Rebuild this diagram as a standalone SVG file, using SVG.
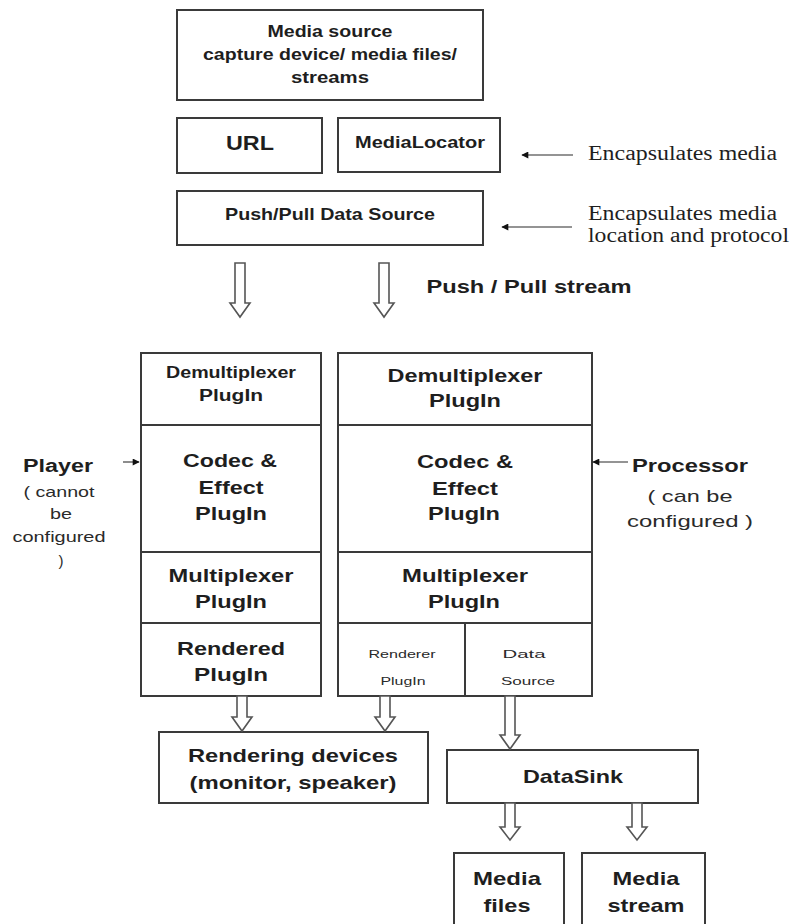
<svg xmlns="http://www.w3.org/2000/svg" width="792" height="924" viewBox="0 0 792 924">
  <style>
    .box { fill: #ffffff; stroke: #3a3a3a; stroke-width: 2; }
    .div { stroke: #3a3a3a; stroke-width: 2; fill: none; }
    .lbl { font-family: "Liberation Sans", Arial, sans-serif; font-weight: bold; fill: #1e1e1e; text-anchor: middle; }
    .note { font-family: "Liberation Sans", Arial, sans-serif; fill: #2a2a2a; text-anchor: middle; }
    .serif { font-family: "Liberation Serif", "Times New Roman", serif; fill: #1e1e1e; }
    .hollow { fill: #ffffff; stroke: #555555; stroke-width: 1.6; stroke-linejoin: miter; }
    .thin { stroke: #707070; stroke-width: 1.6; fill: none; }
  </style>
  <defs>
    <marker id="head" viewBox="0 0 10 10" refX="9" refY="5" markerWidth="9" markerHeight="7" markerUnits="userSpaceOnUse" orient="auto">
      <path d="M0,0 L10,5 L0,10 Z" fill="#111111"/>
    </marker>
  </defs>
  <rect width="792" height="924" fill="#ffffff"/>

  <g id="media-source">
    <rect class="box" x="177" y="10" width="306" height="90"/>
    <text class="lbl" x="330" y="37" font-size="16" textLength="125" lengthAdjust="spacingAndGlyphs">Media source</text>
    <text class="lbl" x="330" y="60" font-size="16" textLength="254" lengthAdjust="spacingAndGlyphs">capture device/ media files/</text>
    <text class="lbl" x="330" y="83" font-size="16" textLength="78" lengthAdjust="spacingAndGlyphs">streams</text>
  </g>

  <g id="url">
    <rect class="box" x="177" y="118" width="145" height="55"/>
    <text class="lbl" x="250" y="150" font-size="21" textLength="48" lengthAdjust="spacingAndGlyphs">URL</text>
  </g>

  <g id="media-locator">
    <rect class="box" x="338" y="118" width="162" height="54"/>
    <text class="lbl" x="420" y="148" font-size="17" textLength="130" lengthAdjust="spacingAndGlyphs">MediaLocator</text>
  </g>

  <g id="data-source">
    <rect class="box" x="177" y="191" width="306" height="54"/>
    <text class="lbl" x="330" y="220" font-size="17" textLength="210" lengthAdjust="spacingAndGlyphs">Push/Pull Data Source</text>
  </g>

  <g id="note-media">
    <text class="serif" x="588" y="160" font-size="20" textLength="189" lengthAdjust="spacingAndGlyphs">Encapsulates media</text>
  </g>

  <g id="note-location">
    <text class="serif" x="588" y="220" font-size="20" textLength="189" lengthAdjust="spacingAndGlyphs">Encapsulates media</text>
    <text class="serif" x="588" y="242" font-size="20" textLength="201" lengthAdjust="spacingAndGlyphs">location and protocol</text>
  </g>

  <g id="stream-label">
    <text class="lbl" x="529" y="293" font-size="19" textLength="205" lengthAdjust="spacingAndGlyphs">Push / Pull stream</text>
  </g>

  <!-- Player: fixed plug-in chain -->
  <g id="player">
    <rect class="box" x="141" y="353" width="180" height="343"/>
    <line class="div" x1="141" y1="425" x2="321" y2="425"/>
    <line class="div" x1="141" y1="552" x2="321" y2="552"/>
    <line class="div" x1="141" y1="623" x2="321" y2="623"/>
    <text class="lbl" x="231" y="378" font-size="16" textLength="130" lengthAdjust="spacingAndGlyphs">Demultiplexer</text>
    <text class="lbl" x="231" y="401" font-size="16" textLength="64" lengthAdjust="spacingAndGlyphs">PlugIn</text>
    <text class="lbl" x="230" y="467" font-size="19" textLength="94" lengthAdjust="spacingAndGlyphs">Codec &amp;</text>
    <text class="lbl" x="231" y="494" font-size="19" textLength="65" lengthAdjust="spacingAndGlyphs">Effect</text>
    <text class="lbl" x="231" y="520" font-size="19" textLength="72" lengthAdjust="spacingAndGlyphs">PlugIn</text>
    <text class="lbl" x="231" y="582" font-size="19" textLength="125" lengthAdjust="spacingAndGlyphs">Multiplexer</text>
    <text class="lbl" x="231" y="608" font-size="19" textLength="72" lengthAdjust="spacingAndGlyphs">PlugIn</text>
    <text class="lbl" x="231" y="655" font-size="19" textLength="108" lengthAdjust="spacingAndGlyphs">Rendered</text>
    <text class="lbl" x="231" y="681" font-size="19" textLength="74" lengthAdjust="spacingAndGlyphs">PlugIn</text>
  </g>

  <g id="player-label">
    <text class="lbl" x="58" y="472" font-size="18" textLength="70" lengthAdjust="spacingAndGlyphs">Player</text>
    <text class="note" x="59" y="497" font-size="15" textLength="71" lengthAdjust="spacingAndGlyphs">( cannot</text>
    <text class="note" x="61" y="519" font-size="15" textLength="22" lengthAdjust="spacingAndGlyphs">be</text>
    <text class="note" x="59" y="542" font-size="15" textLength="93" lengthAdjust="spacingAndGlyphs">configured</text>
    <text class="note" x="61" y="566" font-size="15">)</text>
  </g>

  <!-- Processor: configurable plug-in chain -->
  <g id="processor">
    <rect class="box" x="338" y="353" width="254" height="343"/>
    <line class="div" x1="338" y1="425" x2="592" y2="425"/>
    <line class="div" x1="338" y1="552" x2="592" y2="552"/>
    <line class="div" x1="338" y1="623" x2="592" y2="623"/>
    <line class="div" x1="465" y1="623" x2="465" y2="696"/>
    <text class="lbl" x="465" y="382" font-size="19" textLength="155" lengthAdjust="spacingAndGlyphs">Demultiplexer</text>
    <text class="lbl" x="465" y="407" font-size="19" textLength="72" lengthAdjust="spacingAndGlyphs">PlugIn</text>
    <text class="lbl" x="465" y="468" font-size="19" textLength="96" lengthAdjust="spacingAndGlyphs">Codec &amp;</text>
    <text class="lbl" x="465" y="495" font-size="19" textLength="66" lengthAdjust="spacingAndGlyphs">Effect</text>
    <text class="lbl" x="464" y="520" font-size="19" textLength="72" lengthAdjust="spacingAndGlyphs">PlugIn</text>
    <text class="lbl" x="465" y="582" font-size="19" textLength="126" lengthAdjust="spacingAndGlyphs">Multiplexer</text>
    <text class="lbl" x="464" y="608" font-size="19" textLength="72" lengthAdjust="spacingAndGlyphs">PlugIn</text>
    <text class="note" x="402" y="658" font-size="11" textLength="67" lengthAdjust="spacingAndGlyphs">Renderer</text>
    <text class="note" x="403" y="685" font-size="11" textLength="45" lengthAdjust="spacingAndGlyphs">PlugIn</text>
    <text class="note" x="524" y="658" font-size="11" textLength="43" lengthAdjust="spacingAndGlyphs">Data</text>
    <text class="note" x="528" y="685" font-size="11" textLength="54" lengthAdjust="spacingAndGlyphs">Source</text>
  </g>

  <g id="processor-label">
    <text class="lbl" x="690" y="472" font-size="18" textLength="116" lengthAdjust="spacingAndGlyphs">Processor</text>
    <text class="note" x="690" y="502" font-size="17" textLength="85" lengthAdjust="spacingAndGlyphs">( can be</text>
    <text class="note" x="690" y="527" font-size="17" textLength="126" lengthAdjust="spacingAndGlyphs">configured )</text>
  </g>

  <g id="rendering-devices">
    <rect class="box" x="159" y="732" width="269" height="71"/>
    <text class="lbl" x="293" y="762" font-size="19" textLength="210" lengthAdjust="spacingAndGlyphs">Rendering devices</text>
    <text class="lbl" x="293" y="789" font-size="19" textLength="207" lengthAdjust="spacingAndGlyphs">(monitor, speaker)</text>
  </g>

  <g id="datasink">
    <rect class="box" x="447" y="750" width="251" height="53"/>
    <text class="lbl" x="573" y="783" font-size="19" textLength="100" lengthAdjust="spacingAndGlyphs">DataSink</text>
  </g>

  <g id="media-files">
    <rect class="box" x="454" y="853" width="110" height="80"/>
    <text class="lbl" x="507" y="885" font-size="19" textLength="68" lengthAdjust="spacingAndGlyphs">Media</text>
    <text class="lbl" x="507" y="912" font-size="19" textLength="47" lengthAdjust="spacingAndGlyphs">files</text>
  </g>

  <g id="media-stream">
    <rect class="box" x="582" y="853" width="123" height="80"/>
    <text class="lbl" x="646" y="885" font-size="19" textLength="67" lengthAdjust="spacingAndGlyphs">Media</text>
    <text class="lbl" x="646" y="912" font-size="19" textLength="77" lengthAdjust="spacingAndGlyphs">stream</text>
  </g>

  <g id="connectors">
    <!-- pointer arrows for the side notes -->
    <line class="thin" x1="573" y1="155" x2="522" y2="155" marker-end="url(#head)"/>
    <line class="thin" x1="572" y1="227" x2="502" y2="227" marker-end="url(#head)"/>
    <line class="thin" x1="123" y1="462" x2="139" y2="462" marker-end="url(#head)"/>
    <line class="thin" x1="628" y1="462" x2="593" y2="462" marker-end="url(#head)"/>
    <!-- hollow block arrows for data flow -->
    <path class="hollow" d="M235,263 V303 H230 L240,317 L250,303 H245 V263 Z"/>
    <path class="hollow" d="M379,263 V303 H374 L384,317 L394,303 H389 V263 Z"/>
    <path class="hollow" d="M237,696 V717 H232 L242,731 L252,717 H247 V696 Z"/>
    <path class="hollow" d="M380,696 V717 H375 L385,731 L395,717 H390 V696 Z"/>
    <path class="hollow" d="M505,696 V735 H500 L510,749 L520,735 H515 V696 Z"/>
    <path class="hollow" d="M505,803 V827 H500 L510,840 L520,827 H515 V803 Z"/>
    <path class="hollow" d="M632,803 V827 H627 L637,840 L647,827 H642 V803 Z"/>
  </g>
</svg>
